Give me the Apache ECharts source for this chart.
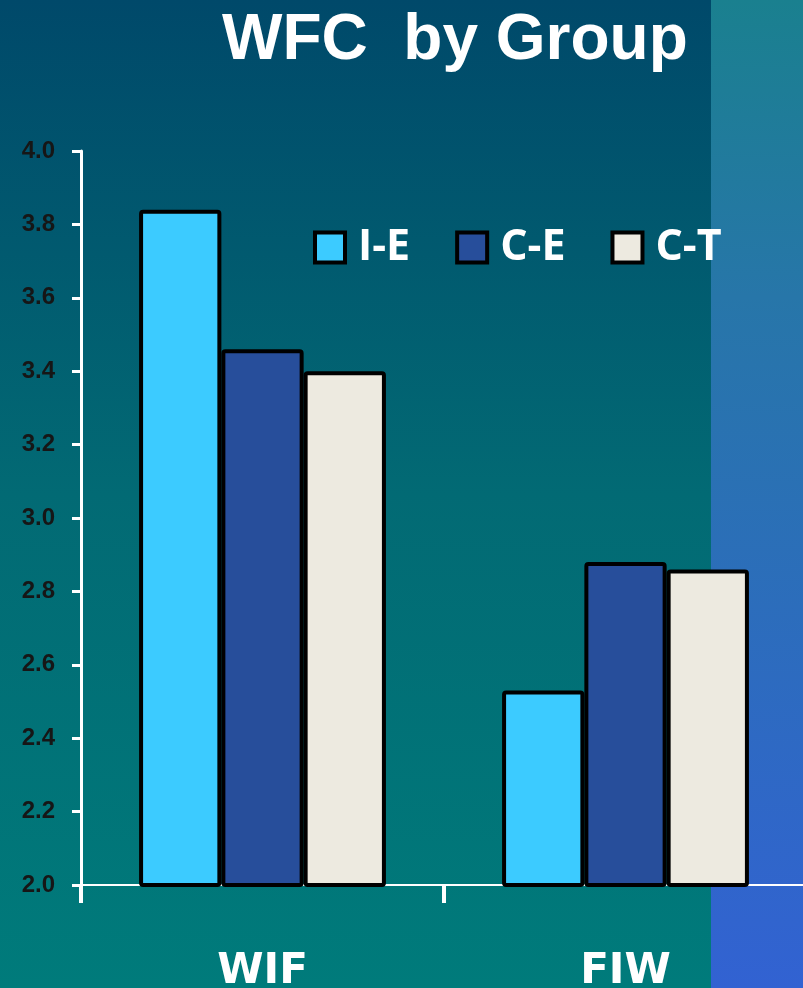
<!DOCTYPE html>
<html lang="en">
  <head>
    <meta charset="UTF-8" />
    <title>WFC by Group</title>
    <script src="https://cdn.jsdelivr.net/npm/echarts@6/dist/echarts.min.js"></script>
    <style>
      html, body { margin: 0; padding: 0; }
      #main { width: 803px; height: 988px; }
    </style>
  </head>
  <body>
    <div id="main"></div>

    <script>
      const groups = ['WIF', 'FIW'];
      const seriesNames = ['I-E', 'C-E', 'C-T'];
      const valuesIE = [3.84, 2.53];
      const valuesCE = [3.46, 2.88];
      const valuesCT = [3.40, 2.86];
      const colors = ['#3ccbff', '#274e9b', '#edeae0'];

      const seriesData = [valuesIE, valuesCE, valuesCT];

      const series = seriesNames.map((name, i) => ({
        name,
        type: 'bar',
        data: seriesData[i],
        barGap: '0%',
        barCategoryGap: '32%',
        itemStyle: {
          color: colors[i],
          borderColor: '#000',
          borderWidth: 4,
          borderRadius: 2
        }
      }));

      const myChart = echarts.init(document.querySelector('#main'));

      myChart.setOption({
        animation: false,
        graphic: [
          {
            type: 'rect',
            z: -100,
            silent: true,
            shape: { x: 0, y: 0, width: 711, height: 988 },
            style: {
              fill: new echarts.graphic.LinearGradient(0, 0, 0, 1, [
                { offset: 0, color: '#00496a' },
                { offset: 0.5, color: '#026a74' },
                { offset: 1, color: '#007b7b' }
              ])
            }
          },
          {
            type: 'rect',
            z: -100,
            silent: true,
            shape: { x: 711, y: 0, width: 92, height: 988 },
            style: {
              fill: new echarts.graphic.LinearGradient(0, 0, 0, 1, [
                { offset: 0, color: '#1a808f' },
                { offset: 0.3, color: '#2776a9' },
                { offset: 1, color: '#3262d2' }
              ])
            }
          }
        ],
        title: {
          text: 'WFC  by Group',
          left: 222,
          top: 9,
          padding: 0,
          textStyle: {
            color: '#fff',
            fontFamily: 'Liberation Sans',
            fontWeight: 'bold',
            fontSize: 64
          }
        },
        legend: {
          left: 308,
          top: 221,
          itemWidth: 30,
          itemHeight: 30,
          itemGap: 45,
          icon: 'rect',
          itemStyle: { borderColor: '#000', borderWidth: 4 },
          textStyle: {
            color: '#fff',
            fontFamily: 'Open Sans',
            fontWeight: 'bold',
            fontSize: 43,
            padding: [0, 0, 0, 8]
          },
          data: seriesNames
        },
        grid: {
          left: 81,
          right: -4,
          top: 151,
          bottom: 103,
          outerBoundsMode: 'none'
        },
        xAxis: {
          type: 'category',
          data: groups,
          axisLine: { lineStyle: { color: '#fff', width: 2 } },
          axisTick: { show: true, length: 18, lineStyle: { color: '#fff', width: 4 } },
          axisLabel: {
            color: '#fff',
            fontFamily: 'DejaVu Sans',
            fontWeight: 'bold',
            fontSize: 42,
            margin: 66
          }
        },
        yAxis: {
          type: 'value',
          min: 2,
          max: 4,
          interval: 0.2,
          splitLine: { show: false },
          axisLine: { show: true, lineStyle: { color: '#fff', width: 3 } },
          axisTick: { show: true, length: 9, lineStyle: { color: '#fff', width: 3 } },
          axisLabel: {
            color: '#161616',
            fontFamily: 'Liberation Sans',
            fontWeight: 'bold',
            fontSize: 24,
            margin: 26,
            formatter: (v) => v.toFixed(1)
          }
        },
        series
      });
    </script>
  </body>
</html>
